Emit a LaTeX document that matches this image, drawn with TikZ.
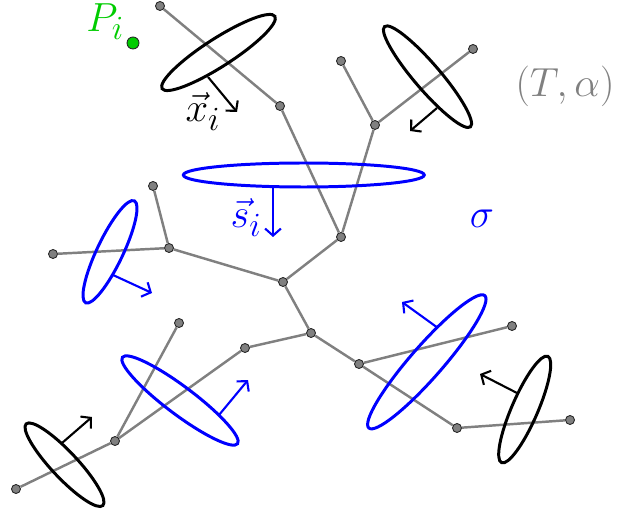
\documentclass[tikz,border=0pt]{standalone}
\usetikzlibrary{arrows.meta}
\definecolor{PointGreen}{RGB}{0,204,0}
\definecolor{TreeGray}{RGB}{128,128,128}
\tikzset{
  vertex/.style={circle,draw=black!85,fill=TreeGray,line width=0.5pt,
    inner sep=0pt,minimum size=0.18cm},
  branch/.style={draw=TreeGray,line width=1.4pt},
  disc/.style={line width=1.7pt},
  normal/.style={-{Straight Barb[length=4pt,width=9pt]},line width=1.2pt},
  tag/.style={font=\Huge,inner sep=0pt,scale=0.93,transform shape}
}

\begin{document}
\begin{tikzpicture}[x=0.02cm,y=-0.02cm]
\useasboundingbox (0,0) rectangle (617,516);

% upper branches
\node[vertex] (v1) at (160,6) {};
\node[vertex] (v2) at (280,106) {};
\node[vertex] (v3) at (341,61) {};
\node[vertex] (v4) at (473,49) {};
\node[vertex] (v5) at (375,125) {};
\node[vertex] (v6) at (341,237) {};

% centre
\node[vertex] (v7) at (283,282) {};
\node[vertex] (v8) at (311,333) {};

% left branches
\node[vertex] (v9) at (169,248) {};
\node[vertex] (v10) at (153,186) {};
\node[vertex] (v11) at (53,254) {};
\node[vertex] (v12) at (245,348) {};
\node[vertex] (v13) at (179,323) {};
\node[vertex] (v14) at (115,441) {};
\node[vertex] (v15) at (16,489) {};

% right branches
\node[vertex] (v16) at (359,364) {};
\node[vertex] (v17) at (512,326) {};
\node[vertex] (v18) at (457,428) {};
\node[vertex] (v19) at (570,420) {};

\draw[branch] (v1) -- (v2) -- (v6);
\draw[branch] (v3) -- (v5) -- (v6);
\draw[branch] (v4) -- (v5);
\draw[branch] (v6) -- (v7);
\draw[branch] (v7) -- (v9) -- (v10);
\draw[branch] (v9) -- (v11);
\draw[branch] (v7) -- (v8) -- (v12) -- (v14) -- (v15);
\draw[branch] (v13) -- (v14);
\draw[branch] (v8) -- (v16) -- (v17);
\draw[branch] (v16) -- (v18) -- (v19);

% black discs
\draw[disc,rotate around={32.7:(218.5,52.5)}]
  (218.5,52.5) ellipse [x radius=67,y radius=14];
\draw[disc,rotate around={-49.4:(427.5,76.7)}]
  (427.5,76.7) ellipse [x radius=66,y radius=13];
\draw[disc,rotate around={-46.8:(64.5,464.7)}]
  (64.5,464.7) ellipse [x radius=56,y radius=13];
\draw[disc,rotate around={66.5:(524.7,409.5)}]
  (524.7,409.5) ellipse [x radius=58,y radius=13];

\draw[normal] (208,77) -- (237,112);
\draw[normal] (437,108) -- (410,131);
\draw[normal] (62,443) -- (92,417);
\draw[normal] (517,393) -- (480,374);

% blue discs
\draw[disc,blue] (303.8,175) ellipse [x radius=120.5,y radius=12];
\draw[disc,blue,rotate around={64.5:(110,251.8)}]
  (110,251.8) ellipse [x radius=56.5,y radius=13];
\draw[disc,blue,rotate around={-36.9:(180,400.5)}]
  (180,400.5) ellipse [x radius=72,y radius=14];
\draw[disc,blue,rotate around={48.8:(426.8,361.8)}]
  (426.8,361.8) ellipse [x radius=88,y radius=16];

\draw[normal,blue] (273,187) -- (273,237);
\draw[normal,blue] (113,275) -- (152,293);
\draw[normal,blue] (219,415) -- (248,380);
\draw[normal,blue] (438,328) -- (402,302);

% point and labels
\node[circle,draw=black!85,fill=PointGreen,line width=0.5pt,inner sep=0pt,
      minimum size=0.24cm] (pt) at (133,43) {};
\node[tag,text=PointGreen,anchor=base west] (ptlbl) at (86,31.7) {$P_i$};
\node[tag,anchor=base] (xlbl) at (203,122) {$\vec{x}_i$};
\node[tag,text=blue,anchor=base] (slbl) at (246,228) {$\vec{s}_i$};
\node[tag,text=TreeGray,anchor=base] (tree) at (565,96.7) {$(T,\alpha)$};
\node[tag,text=blue,anchor=base] (sig) at (482,228) {$\sigma$};

\end{tikzpicture}
\end{document}
